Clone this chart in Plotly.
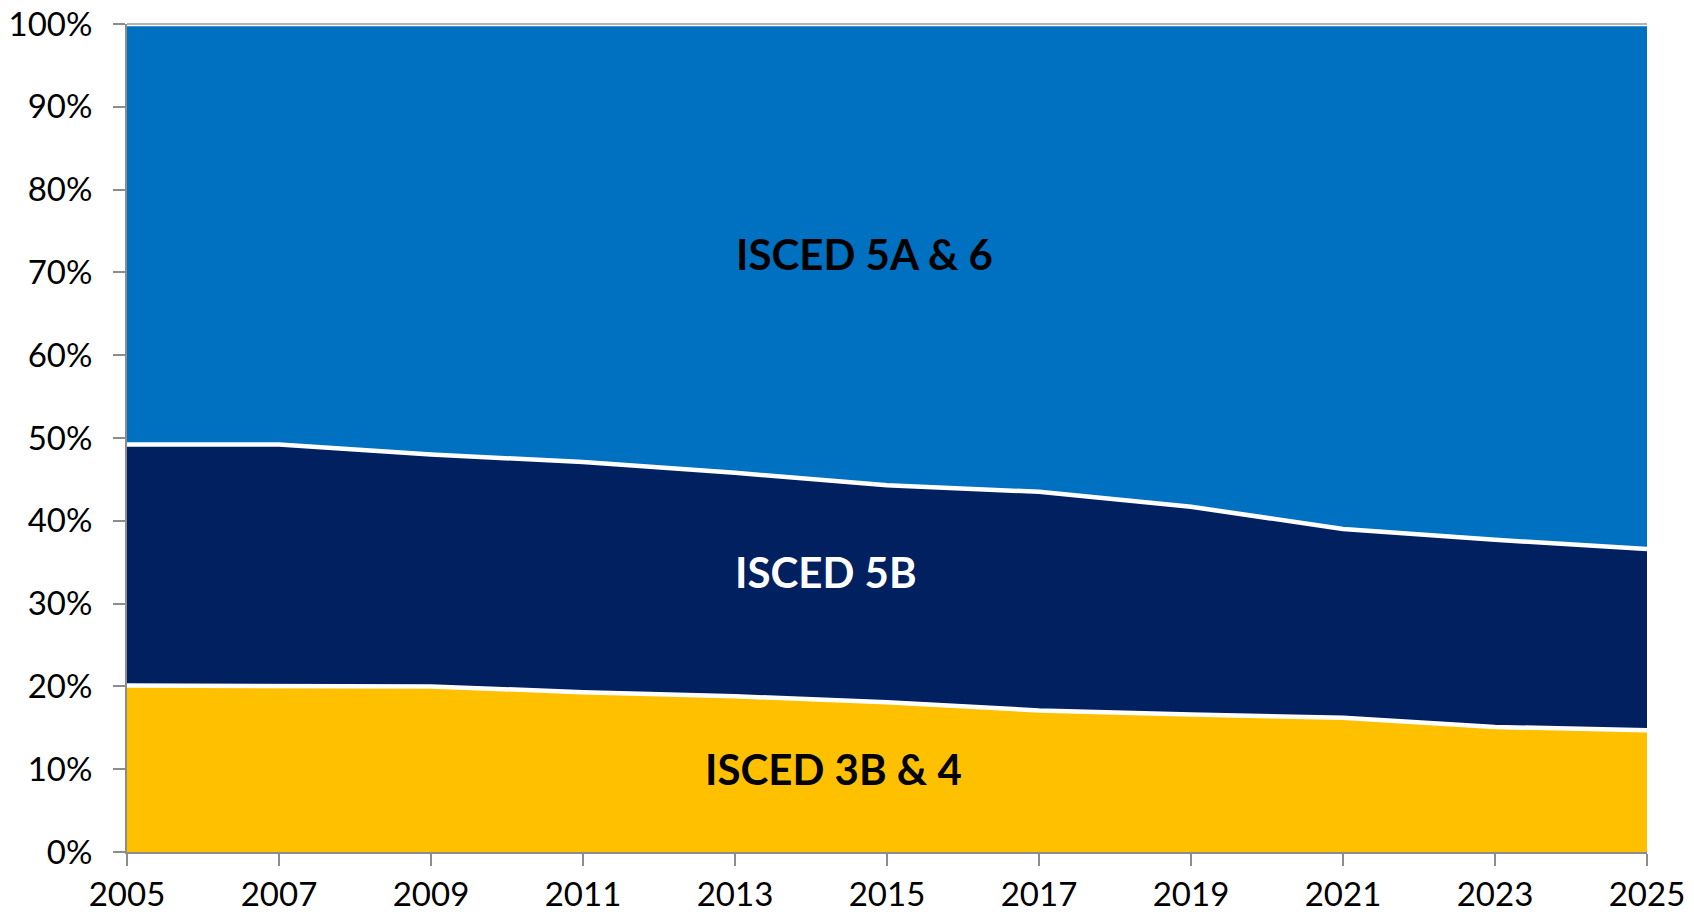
import plotly.graph_objects as go

# shares of students by level, percent
years = [2005, 2007, 2009, 2011, 2013, 2015, 2017, 2019, 2021, 2023, 2025]
isced_3b_4 = [20.1, 20.0, 20.0, 19.3, 18.8, 18.1, 17.1, 16.6, 16.2, 15.1, 14.7]
isced_5b = [29.1, 29.2, 28.0, 27.8, 27.0, 26.2, 26.4, 25.1, 22.8, 22.6, 21.9]
isced_5a_6 = [round(100 - a - b, 1) for a, b in zip(isced_3b_4, isced_5b)]

series = [
    ("ISCED 3B & 4", isced_3b_4, "#FFC000"),
    ("ISCED 5B", isced_5b, "#002060"),
    ("ISCED 5A & 6", isced_5a_6, "#0070C0"),
]

fig = go.Figure()
for name, vals, color in series:
    fig.add_trace(go.Scatter(
        x=years, y=vals, name=name, mode="lines",
        stackgroup="one", fillcolor=color,
        line=dict(color="white", width=4.5),
    ))

# in-chart labels
labels = [
    ("ISCED 5A & 6", 2014.7, 72.2, "black"),
    ("ISCED 5B", 2014.2, 33.8, "white"),
    ("ISCED 3B & 4", 2014.3, 10.0, "black"),
]
for text, x, y, col in labels:
    fig.add_annotation(x=x, y=y, text=f"<b>{text}</b>", showarrow=False,
                       font=dict(family="Lato", size=42, color=col))

axis_col = "#8C8C8C"
fig.update_xaxes(
    range=[2005, 2025], tickvals=years, showgrid=False, zeroline=False,
    showline=True, linecolor=axis_col, linewidth=2, automargin=False,
    ticks="outside", ticklen=12, tickwidth=2, tickcolor=axis_col,
    ticklabeloverflow="allow",
    tickfont=dict(family="Lato", size=33, color="black"),
)
fig.update_yaxes(
    range=[0, 100], dtick=10, ticksuffix="%", showgrid=False, zeroline=False,
    showline=True, linecolor=axis_col, linewidth=2, automargin=False,
    ticks="outside", ticklen=12, tickwidth=2, tickcolor=axis_col,
    ticklabelstandoff=14, ticklabeloverflow="allow",
    tickfont=dict(family="Lato", size=33, color="black"),
)

fig.add_shape(type="line", xref="paper", yref="paper", x0=0, x1=1, y0=1, y1=1,
              line=dict(color="#B3B3B3", width=2), layer="above")

# page body adds an 8px margin, so the figure is offset to fit inside it
fig.update_layout(
    width=1678, height=907,
    margin=dict(l=119, r=39, t=16, b=63),
    plot_bgcolor="white", paper_bgcolor="white",
    showlegend=False,
)

fig.write_html("out.html")
